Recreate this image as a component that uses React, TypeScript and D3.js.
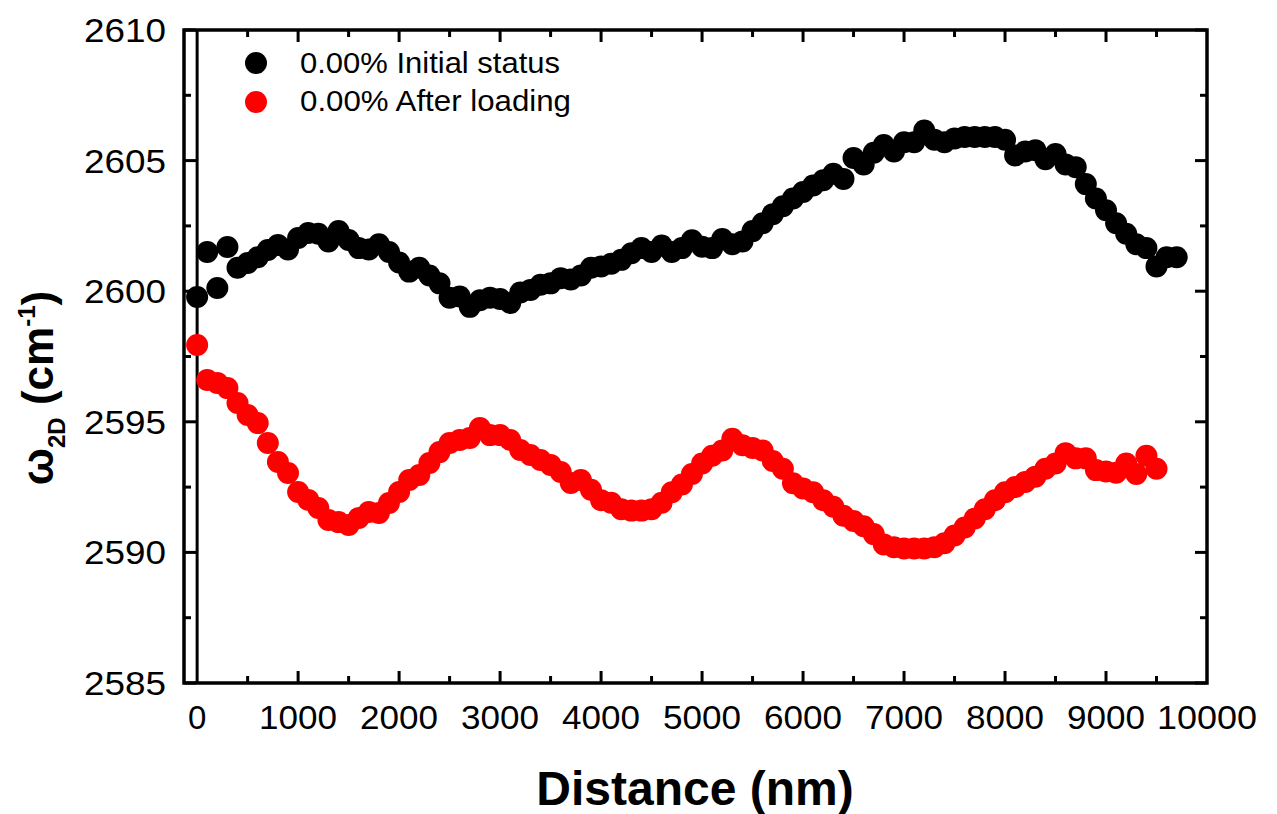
import React from 'react';
import * as d3 from 'd3';

const distanceInitial = [
  0, 100, 200, 300, 400, 500, 600, 700, 800, 900,
  1000, 1100, 1200, 1300, 1400, 1500, 1600, 1700, 1800, 1900,
  2000, 2100, 2200, 2300, 2400, 2500, 2600, 2700, 2800, 2900,
  3000, 3100, 3200, 3300, 3400, 3500, 3600, 3700, 3800, 3900,
  4000, 4100, 4200, 4300, 4400, 4500, 4600, 4700, 4800, 4900,
  5000, 5100, 5200, 5300, 5400, 5500, 5600, 5700, 5800, 5900,
  6000, 6100, 6200, 6300, 6400, 6500, 6600, 6700, 6800, 6900,
  7000, 7100, 7200, 7300, 7400, 7500, 7600, 7700, 7800, 7900,
  8000, 8100, 8200, 8300, 8400, 8500, 8600, 8700, 8800, 8900,
  9000, 9100, 9200, 9300, 9400, 9500, 9600, 9700,
];

const initialStatus = [
  2599.78, 2601.5, 2600.12, 2601.69, 2600.9, 2601.08, 2601.3, 2601.58, 2601.77, 2601.6,
  2602.04, 2602.23, 2602.2, 2601.9, 2602.3, 2601.96, 2601.65, 2601.6, 2601.8, 2601.5,
  2601.1, 2600.75, 2600.9, 2600.6, 2600.3, 2599.75, 2599.8, 2599.4, 2599.65, 2599.75,
  2599.7, 2599.55, 2599.95, 2600.05, 2600.25, 2600.3, 2600.5, 2600.45, 2600.6, 2600.9,
  2600.95, 2601.05, 2601.2, 2601.45, 2601.65, 2601.5, 2601.75, 2601.5, 2601.65, 2601.95,
  2601.7, 2601.65, 2602.0, 2601.8, 2601.9, 2602.3, 2602.6, 2602.95, 2603.25, 2603.55,
  2603.8, 2604.05, 2604.25, 2604.5, 2604.3, 2605.1, 2604.85, 2605.3, 2605.6, 2605.35,
  2605.7, 2605.7, 2606.15, 2605.8, 2605.7, 2605.85, 2605.9, 2605.9, 2605.9, 2605.9,
  2605.8, 2605.2, 2605.35, 2605.4, 2605.05, 2605.25, 2604.85, 2604.75, 2604.1, 2603.55,
  2603.1, 2602.6, 2602.2, 2601.8, 2601.65, 2600.95, 2601.3, 2601.3,
];

const distanceAfter = [
  0, 100, 200, 300, 400, 500, 600, 700, 800, 900,
  1000, 1100, 1200, 1300, 1400, 1500, 1600, 1700, 1800, 1900,
  2000, 2100, 2200, 2300, 2400, 2500, 2600, 2700, 2800, 2900,
  3000, 3100, 3200, 3300, 3400, 3500, 3600, 3700, 3800, 3900,
  4000, 4100, 4200, 4300, 4400, 4500, 4600, 4700, 4800, 4900,
  5000, 5100, 5200, 5300, 5400, 5500, 5600, 5700, 5800, 5900,
  6000, 6100, 6200, 6300, 6400, 6500, 6600, 6700, 6800, 6900,
  7000, 7100, 7200, 7300, 7400, 7500, 7600, 7700, 7800, 7900,
  8000, 8100, 8200, 8300, 8400, 8500, 8600, 8700, 8800, 8900,
  9000, 9100, 9200, 9300, 9400, 9500,
];

const afterLoading = [
  2597.94, 2596.6, 2596.49, 2596.29, 2595.72, 2595.26, 2594.95, 2594.19, 2593.46, 2593.04,
  2592.31, 2592.01, 2591.7, 2591.24, 2591.16, 2591.05, 2591.32, 2591.55, 2591.51, 2591.89,
  2592.31, 2592.77, 2592.96, 2593.42, 2593.84, 2594.19, 2594.3, 2594.38, 2594.76, 2594.49,
  2594.49, 2594.3, 2593.92, 2593.73, 2593.54, 2593.35, 2593.08, 2592.66, 2592.77, 2592.4,
  2592.0, 2591.9, 2591.65, 2591.6, 2591.6, 2591.65, 2591.9, 2592.3, 2592.6, 2593.0,
  2593.4, 2593.7, 2593.9, 2594.35, 2594.1, 2594.0, 2593.9, 2593.5, 2593.2, 2592.65,
  2592.45, 2592.3, 2592.0, 2591.75, 2591.4, 2591.2, 2591.0, 2590.7, 2590.3, 2590.2,
  2590.15, 2590.15, 2590.15, 2590.2, 2590.35, 2590.65, 2590.95, 2591.3, 2591.65, 2592.0,
  2592.3, 2592.5, 2592.7, 2592.9, 2593.2, 2593.4, 2593.8, 2593.6, 2593.6, 2593.15,
  2593.1, 2593.05, 2593.4, 2593.0, 2593.7, 2593.2,
];

const xTickValues = [0, 1000, 2000, 3000, 4000, 5000, 6000, 7000, 8000, 9000, 10000];
const xMinorValues = [500, 1500, 2500, 3500, 4500, 5500, 6500, 7500, 8500, 9500];
const yTickValues = [2585, 2590, 2595, 2600, 2605, 2610];
const yMinorValues = [2587.5, 2592.5, 2597.5, 2602.5, 2607.5];
const seriesNames = ['0.00% Initial status', '0.00% After loading'];
const seriesColors = ['#000000', '#ff0000'];

const W = 1277;
const H = 814;
const L = 184;
const R = 1207;
const T = 30;
const B = 683;
const FONT = '"Liberation Sans", Arial, Helvetica, sans-serif';

export default function App() {
  const x = d3.scaleLinear().domain([-130, 10000]).range([L, R]);
  const y = d3.scaleLinear().domain([2585, 2610]).range([B, T]);
  const majorLen = 12;
  const minorLen = 7;
  const tickW = 3;

  const series = [
    { name: seriesNames[0], color: seriesColors[0], xs: distanceInitial, ys: initialStatus },
    { name: seriesNames[1], color: seriesColors[1], xs: distanceAfter, ys: afterLoading },
  ];

  const xLabelWidth = (v: number) => {
    const s = String(v);
    if (s.length === 1) return undefined;
    return s.length === 4 ? 78 : 100;
  };

  return (
    <svg width={W} height={H} style={{ position: 'absolute', left: 0, top: 0, background: '#fff' }}>
      <rect x={0} y={0} width={W} height={H} fill="#fff" />
      {/* ticks bottom/top */}
      {xTickValues.filter((v) => v > 0 && v < 10000).map((v) => (
        <g key={'xt' + v}>
          <line x1={x(v)} x2={x(v)} y1={B} y2={B - majorLen} stroke="#000" strokeWidth={tickW} />
          <line x1={x(v)} x2={x(v)} y1={T} y2={T + majorLen} stroke="#000" strokeWidth={tickW} />
        </g>
      ))}
      {xMinorValues.map((v) => (
        <g key={'xm' + v}>
          <line x1={x(v)} x2={x(v)} y1={B} y2={B - minorLen} stroke="#000" strokeWidth={tickW} />
          <line x1={x(v)} x2={x(v)} y1={T} y2={T + minorLen} stroke="#000" strokeWidth={tickW} />
        </g>
      ))}
      {yTickValues.map((v) => (
        <g key={'yt' + v}>
          <line x1={L} x2={L + majorLen} y1={y(v)} y2={y(v)} stroke="#000" strokeWidth={tickW} />
          <line x1={R} x2={R - majorLen} y1={y(v)} y2={y(v)} stroke="#000" strokeWidth={tickW} />
        </g>
      ))}
      {yMinorValues.map((v) => (
        <g key={'ym' + v}>
          <line x1={L} x2={L + minorLen} y1={y(v)} y2={y(v)} stroke="#000" strokeWidth={tickW} />
          <line x1={R} x2={R - minorLen} y1={y(v)} y2={y(v)} stroke="#000" strokeWidth={tickW} />
        </g>
      ))}
      {/* zero line */}
      <line x1={x(0)} x2={x(0)} y1={T} y2={B} stroke="#000" strokeWidth={3} />
      {/* frame */}
      <rect x={L} y={T} width={R - L} height={B - T} fill="none" stroke="#000" strokeWidth={3.5} />

      {/* tick labels */}
      {xTickValues.map((v) => (
        <text
          key={'xl' + v}
          x={x(v)}
          y={729}
          textAnchor="middle"
          fontFamily={FONT}
          fontSize={33}
          textLength={xLabelWidth(v)}
          lengthAdjust="spacingAndGlyphs"
          fill="#000"
        >
          {v}
        </text>
      ))}
      {yTickValues.map((v) => (
        <text
          key={'yl' + v}
          x={166}
          y={y(v) + 12}
          textAnchor="end"
          fontFamily={FONT}
          fontSize={34}
          textLength={82}
          lengthAdjust="spacingAndGlyphs"
          fill="#000"
        >
          {v}
        </text>
      ))}

      {/* axis titles */}
      <text x={695} y={805} textAnchor="middle" fontFamily={FONT} fontSize={48} fontWeight="bold" fill="#000">
        Distance (nm)
      </text>
      <text
        transform="translate(53,388) rotate(-90)"
        textAnchor="middle"
        fontFamily={FONT}
        fontSize={44}
        fontWeight="bold"
        fill="#000"
      >
        ω<tspan fontSize={24} dy={12}>2D</tspan>
        <tspan dy={-12}> (cm</tspan>
        <tspan fontSize={24} dy={-18}>-1</tspan>
        <tspan dy={18}>)</tspan>
      </text>

      {/* data */}
      {series.map((s) => (
        <g key={s.name}>
          {s.xs.map((d, i) => (
            <circle key={i} cx={x(d)} cy={y(s.ys[i])} r={11} fill={s.color} />
          ))}
        </g>
      ))}

      {/* legend */}
      {series.map((s, i) => (
        <g key={'lg' + i}>
          <circle cx={256} cy={63 + i * 39} r={11} fill={s.color} />
          <text
            x={300}
            y={73 + i * 38}
            fontFamily={FONT}
            fontSize={29}
            fill="#000"
            textLength={i === 0 ? 260 : 271}
            lengthAdjust="spacingAndGlyphs"
          >
            {s.name}
          </text>
        </g>
      ))}
    </svg>
  );
}
